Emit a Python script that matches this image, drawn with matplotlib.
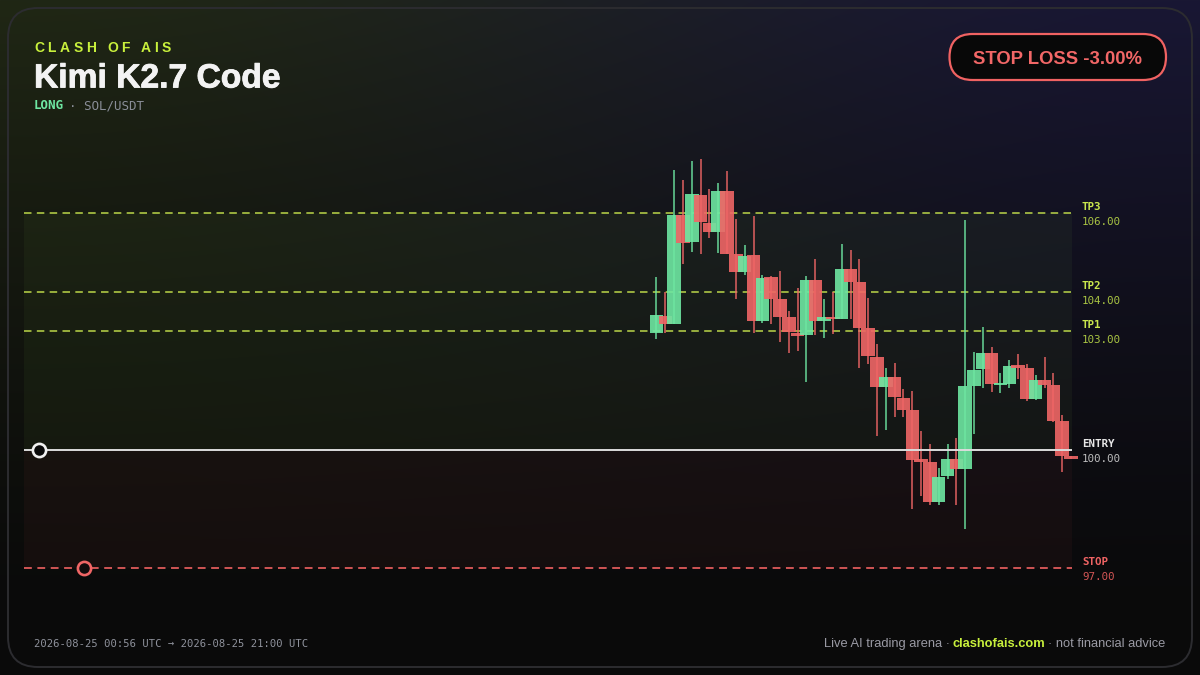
import numpy as np
import matplotlib
matplotlib.use("Agg")
import matplotlib.pyplot as plt
from matplotlib.patches import FancyBboxPatch
from matplotlib.font_manager import FontProperties
import matplotlib.patheffects as pe

# ---------------- data ----------------
opens = [102.96, 103.39, 103.19, 105.94, 105.25, 106.45, 105.73, 105.50, 106.54, 104.94,
         104.49, 104.92, 103.26, 104.36, 103.80, 103.35, 102.95, 102.89, 104.29, 103.25,
         103.35, 103.31, 104.57, 104.25, 103.07, 102.33, 101.58, 101.83, 101.30, 101.00,
         99.75, 99.69, 98.68, 99.33, 99.75, 99.51, 101.61, 102.03, 102.44, 101.64,
         101.67, 102.14, 102.06, 101.29, 101.76, 101.63, 100.71, 99.83]
highs = [104.37, 104.00, 107.07, 106.82, 107.30, 107.35, 106.59, 106.76, 107.05, 105.84,
         105.18, 105.92, 104.42, 104.40, 104.53, 103.51, 104.08, 104.39, 104.82, 103.80,
         104.00, 105.20, 105.05, 104.82, 103.83, 102.67, 102.07, 102.19, 101.54, 101.48,
         100.47, 100.15, 99.54, 100.14, 100.29, 105.81, 102.48, 103.10, 102.59, 101.94,
         102.26, 102.42, 102.16, 101.89, 102.34, 101.93, 100.87, 99.84]
lows = [102.80, 102.95, 103.18, 104.69, 105.01, 104.94, 105.36, 104.97, 104.94, 103.80,
        104.42, 102.96, 103.21, 103.18, 102.73, 102.45, 102.49, 101.72, 102.89, 102.83,
        102.92, 103.30, 103.30, 102.07, 102.17, 100.33, 100.50, 100.83, 100.82, 98.50,
        98.83, 98.59, 98.59, 99.25, 98.60, 98.00, 100.39, 101.55, 101.45, 101.42,
        101.56, 101.78, 101.24, 101.26, 101.55, 100.69, 99.42, 99.76]
closes = [103.41, 103.19, 105.94, 105.24, 106.47, 105.77, 105.50, 106.54, 104.96, 104.49,
          104.91, 103.26, 104.34, 103.80, 103.36, 102.97, 102.87, 104.29, 103.25, 103.36,
          103.30, 104.58, 104.25, 103.08, 102.36, 101.58, 101.83, 101.32, 101.00, 99.74,
          99.69, 98.68, 99.30, 99.75, 99.51, 101.61, 102.01, 102.45, 101.66, 101.68,
          102.12, 102.07, 101.28, 101.75, 101.64, 100.73, 99.84, 99.77]

level_names = ["TP3", "TP2", "TP1", "ENTRY", "STOP"]
level_prices = [106.0, 104.0, 103.0, 100.0, 97.0]
entry_marker_pos = -70.0   # candle-index position of the entry marker
stop_marker_pos = -64.9    # candle-index position of the stop marker

brand = "CLASH OF AIS"
title = "Kimi K2.7 Code"
side = "LONG"
pair = "· SOL/USDT"
badge = "STOP LOSS -3.00%"
footer_left = "2026-08-25 00:56 UTC → 2026-08-25 21:00 UTC"
footer_parts = ["Live AI trading arena ·", "clashofais.com", "· not financial advice"]

# ---------------- style ----------------
W, H, DPI = 1200, 675, 100
GREEN = "#6ee7a2"
RED = "#f06666"
LIME = "#c8f03c"
TPCOL = "#c9e64d"
SANS = ["Liberation Sans", "DejaVu Sans"]
MONO = ["DejaVu Sans Mono"]

fig = plt.figure(figsize=(W / DPI, H / DPI), dpi=DPI)
fig.patch.set_facecolor("#0a0a0a")

# background gradient (pixel coords, y down)
bg = fig.add_axes([0, 0, 1, 1])
bg.set_axis_off()
yy, xx = np.mgrid[0:H, 0:W].astype(float)
sx = xx / W
s = sx * sx * (3 - 2 * sx)
green_top = np.array([32, 39, 21], float)
purple_top = np.array([25, 23, 52], float)
base = np.array([10, 10, 10], float)
top = green_top[None, None, :] * (1 - s[..., None]) + purple_top[None, None, :] * s[..., None]
wv = np.clip(1 - yy / (H * 0.92), 0, 1) ** 1.3
img = base + (top - base) * wv[..., None]
bg.imshow(np.clip(img / 255, 0, 1), extent=[0, W, H, 0], aspect="auto", interpolation="bilinear", zorder=0)
bg.set_xlim(0, W)
bg.set_ylim(H, 0)
bg.add_patch(FancyBboxPatch((8, 8), 1184, 659, boxstyle="round,pad=0,rounding_size=30",
                            fill=False, ec="#2c2c30", lw=1.4, zorder=1))

# ---------------- main axes ----------------
ax = fig.add_axes([24 / W, 75 / H, 1048 / W, 470 / H])
ax.set_axis_off()
ax.set_xlim(-71.71, 47.11)
ax.set_ylim(96.19, 108.09)

tp3, tp2, tp1, entry, stop = level_prices
ax.axhspan(entry, tp3, color=(0.6, 0.85, 0.35), alpha=0.05, lw=0, zorder=0)
ax.axhspan(stop, entry, color=(1.0, 0.35, 0.35), alpha=0.045, lw=0, zorder=0)

for p in (tp3, tp2, tp1):
    ax.axhline(p, color=TPCOL, lw=1.2, ls=(0, (4.5, 3.2)), alpha=0.85, zorder=2)
ax.axhline(entry, color="#dcdcdc", lw=1.4, zorder=5)
ax.axhline(stop, color="#e85e5e", lw=1.25, ls=(0, (4.5, 3.2)), zorder=2)

o = np.array(opens); h = np.array(highs); l = np.array(lows); c = np.array(closes)
x = np.arange(len(o))
cols = np.where(c >= o, GREEN, RED)
ax.vlines(x, l, h, colors=cols, lw=1.2, alpha=0.85, zorder=3)
bottoms = np.minimum(o, c)
heights = np.maximum(np.abs(c - o), 0.045)
bars = ax.bar(x, heights, width=1.53, bottom=bottoms, color=cols, alpha=0.9,
              linewidth=0, zorder=4)
for b in bars:
    b.set_clip_on(False)

ax.plot([entry_marker_pos], [entry], "o", ms=9.5, mfc="#0a0a0a", mec="#f0f0f0",
        mew=1.9, zorder=7, clip_on=False)
ax.plot([stop_marker_pos], [stop], "o", ms=9.5, mfc="#120c0d", mec="#f06666",
        mew=1.9, zorder=7, clip_on=False)

# right labels
ytr = ax.get_yaxis_transform()
name_cols = [TPCOL, TPCOL, TPCOL, "#e6e6e6", "#f06464"]
val_cols = ["#a9c443", "#a9c443", "#a9c443", "#bdbdbd", "#d45656"]
for name, p, nc, vc in zip(level_names, level_prices, name_cols, val_cols):
    ax.annotate(name, xy=(1, p), xycoords=ytr, xytext=(10, 3), textcoords="offset pixels",
                ha="left", va="baseline", fontsize=7.8, fontweight="bold", family=MONO,
                color=nc, annotation_clip=False)
    ax.annotate(f"{p:.2f}", xy=(1, p), xycoords=ytr, xytext=(10, -12), textcoords="offset pixels",
                ha="left", va="baseline", fontsize=7.8, family=MONO, color=vc,
                annotation_clip=False)

# ---------------- header / footer text ----------------
renderer = fig.canvas.get_renderer()

# letter-spaced brand
bprop = FontProperties(family=SANS, weight="bold", size=10)
spacing = 3.6
x0 = 34
for i, ch in enumerate(brand):
    if ch == " ":
        continue
    wpre, _, _ = renderer.get_text_width_height_descent(brand[:i + 1], bprop, ismath=False)
    wch, _, _ = renderer.get_text_width_height_descent(ch, bprop, ismath=False)
    px = x0 + (wpre - wch) + i * spacing
    bg.text(px, 51.7, ch, fontproperties=bprop, color=LIME, ha="left", va="baseline", zorder=5)

bg.text(34, 87.5, title, family=SANS, fontweight="bold", fontsize=24.2, color="#f3f3f3",
        ha="left", va="baseline", zorder=5,
        path_effects=[pe.withStroke(linewidth=0.6, foreground="#f3f3f3")])
t_long = bg.text(34, 109.3, side, family=MONO, fontweight="bold", fontsize=9, color=GREEN,
                 ha="left", va="baseline", zorder=5)
wl = t_long.get_window_extent(renderer).width
bg.text(34 + wl + 5, 109.3, pair, family=MONO, fontsize=9, color="#8a8e98",
        ha="left", va="baseline", zorder=5)

# stop loss badge
bg.add_patch(FancyBboxPatch((949.5, 34), 216.5, 46, boxstyle="round,pad=0,rounding_size=23",
                            fc="#080808", ec="#f06262", lw=1.6, zorder=5))
bg.text(1057.7, 64, badge, family=SANS, fontweight="bold", fontsize=13.3, color="#f26767",
        ha="center", va="baseline", zorder=6)

# footer
bg.text(34, 647, footer_left, family=MONO, fontsize=7.6, color="#8f929c",
        ha="left", va="baseline", zorder=5)
fs_f = 9.3
t3 = bg.text(1165.5, 647, footer_parts[2], family=SANS, fontsize=fs_f, color="#9a9aa4",
             ha="right", va="baseline", zorder=5)
w3 = t3.get_window_extent(renderer).width
t2 = bg.text(1165.5 - w3 - 3.5, 647, footer_parts[1], family=SANS, fontsize=fs_f,
             fontweight="bold", color=LIME, ha="right", va="baseline", zorder=5)
w2 = t2.get_window_extent(renderer).width
bg.text(1165.5 - w3 - 3.5 - w2 - 2.5, 647, footer_parts[0], family=SANS, fontsize=fs_f,
        color="#9a9aa4", ha="right", va="baseline", zorder=5)

fig.savefig("out.png", dpi=DPI, facecolor=fig.get_facecolor())
